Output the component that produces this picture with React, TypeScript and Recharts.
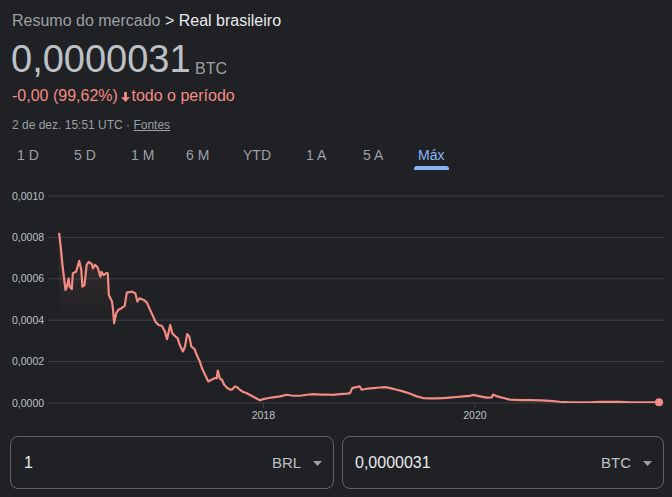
import React from "react";
import {
  ComposedChart,
  Area,
  XAxis,
  YAxis,
  CartesianGrid,
  ReferenceDot,
} from "recharts";

// ---- data ----
const years: number[] = [
  2016.07, 2016.09, 2016.1, 2016.13, 2016.14, 2016.16, 2016.17, 2016.19, 2016.2, 2016.23,
  2016.25, 2016.26, 2016.28, 2016.29, 2016.31, 2016.33, 2016.35, 2016.38, 2016.39, 2016.41,
  2016.43, 2016.44, 2016.46, 2016.47, 2016.49, 2016.52, 2016.53, 2016.54, 2016.57, 2016.58,
  2016.59, 2016.61, 2016.63, 2016.66, 2016.69, 2016.71, 2016.76, 2016.79, 2016.81, 2016.83,
  2016.87, 2016.9, 2016.93, 2016.96, 2016.98, 2017.01, 2017.04, 2017.07, 2017.09, 2017.12,
  2017.14, 2017.17, 2017.19, 2017.21, 2017.24, 2017.26, 2017.28, 2017.3, 2017.32, 2017.35,
  2017.37, 2017.4, 2017.42, 2017.45, 2017.48, 2017.51, 2017.54, 2017.56, 2017.57, 2017.59,
  2017.61, 2017.63, 2017.66, 2017.69, 2017.71, 2017.73, 2017.75, 2017.78, 2017.81, 2017.84,
  2017.87, 2017.91, 2017.94, 2017.97, 2018.0, 2018.05, 2018.09, 2018.16, 2018.22, 2018.28,
  2018.35, 2018.41, 2018.47, 2018.54, 2018.6, 2018.66, 2018.72, 2018.79, 2018.82, 2018.84,
  2018.88, 2018.91, 2018.93, 2018.98, 2019.04, 2019.1, 2019.15, 2019.2, 2019.26, 2019.32,
  2019.39, 2019.45, 2019.51, 2019.58, 2019.64, 2019.7, 2019.76, 2019.83, 2019.89, 2019.95,
  2019.98, 2020.05, 2020.11, 2020.16, 2020.17, 2020.21, 2020.27, 2020.33, 2020.43, 2020.52,
  2020.62, 2020.71, 2020.8, 2020.9, 2020.99, 2021.09, 2021.18, 2021.28, 2021.37, 2021.47,
  2021.56, 2021.65, 2021.74,
];

const values: number[] = [
  0.000822, 0.00073, 0.000675, 0.000546, 0.000555, 0.000602, 0.000562, 0.00055, 0.000627, 0.000634,
  0.000667, 0.000687, 0.000642, 0.000562, 0.00057, 0.000667, 0.000682, 0.000671, 0.00065, 0.000667,
  0.000658, 0.000646, 0.00061, 0.000634, 0.000618, 0.000629, 0.000626, 0.000522, 0.00049, 0.00045,
  0.000386, 0.000434, 0.00045, 0.000458, 0.000469, 0.000533, 0.000538, 0.00053, 0.00049, 0.000506,
  0.000498, 0.000485, 0.00045, 0.000417, 0.000393, 0.000377, 0.000373, 0.000345, 0.000308, 0.000377,
  0.000337, 0.000321, 0.000313, 0.000281, 0.000249, 0.000273, 0.000333, 0.000321, 0.000273, 0.00026,
  0.000233, 0.0002, 0.000169, 0.000136, 0.000104, 0.000112, 0.00012, 0.00012, 0.000157, 0.000117,
  0.000112, 0.000088, 0.000072, 0.000064, 0.000067, 0.00008, 0.000077, 0.000064, 0.000053, 0.000048,
  0.00004, 0.000029, 0.000021, 0.000013, 0.000019, 0.000024, 0.000027, 0.000032, 0.00004, 0.000035,
  0.000035, 0.00004, 0.000043, 0.00004, 0.000041, 0.000039, 0.000043, 0.000045, 0.000048, 0.000072,
  0.000077, 0.00008, 0.000064, 0.000069, 0.000072, 0.000075, 0.000077, 0.000072, 0.000064, 0.000056,
  0.000045, 0.000032, 0.000024, 0.000022, 0.000022, 0.000024, 0.000026, 0.000029, 0.000032, 0.000034,
  0.000039, 0.000032, 0.000026, 0.000027, 0.000041, 0.000032, 0.000024, 0.000016, 0.000014, 0.000014,
  0.000013, 0.00001, 0.000006, 0.000003, 0.000003, 0.000003, 0.000005, 0.000005, 0.000005, 0.000003,
  0.000003, 0.000003, 0.0000031,
];

const yTicks: number[] = [0, 0.0002, 0.0004, 0.0006, 0.0008, 0.001];
const xTicks: number[] = [2018, 2020];
const tabs: string[] = ["1 D", "5 D", "1 M", "6 M", "YTD", "1 A", "5 A", "Máx"];
const tabX: number[] = [17, 74, 131, 186, 243, 306, 363, 418];

const data = years.map((t, i) => ({ t, v: values[i] }));
const lastIdx = years.length - 1;

const FONT = 'Arial, "Liberation Sans", sans-serif';
const RED = "#f28b82";
const BG = "#202124";

const fmtY = (v: number) => v.toFixed(4).replace(".", ",");

const YTick = (props: any) => {
  const { y, payload } = props;
  return (
    <text
      x={12}
      y={y}
      dy="0.35em"
      textAnchor="start"
      fill="#bdc1c6"
      fontSize={10.5}
      fontFamily={FONT}
    >
      {fmtY(payload.value)}
    </text>
  );
};

const abs = (left: number, top: number, extra: React.CSSProperties = {}): React.CSSProperties => ({
  position: "absolute",
  left,
  top,
  whiteSpace: "nowrap",
  fontFamily: FONT,
  ...extra,
});

export default function App() {
  return (
    <div
      style={{
        position: "fixed",
        left: 0,
        top: 0,
        width: 672,
        height: 497,
        background: BG,
        overflow: "hidden",
        fontFamily: FONT,
      }}
    >
      {/* breadcrumb */}
      <div style={abs(12, 13, { fontSize: 16, lineHeight: "16px" })}>
        <span style={{ color: "#9aa0a6" }}>Resumo do mercado </span>
        <span style={{ color: "#e8eaed" }}>&gt; Real brasileiro</span>
      </div>
      {/* big value */}
      <div style={abs(11, 40, { fontSize: 38, lineHeight: "38px", color: "#bdc1c6" })}>
        0,0000031
      </div>
      <div style={abs(195, 60.5, { fontSize: 16, lineHeight: "16px", color: "#9aa0a6" })}>BTC</div>
      {/* change */}
      <div style={abs(12, 88, { fontSize: 16, lineHeight: "16px", color: RED })}>
        -0,00 (99,62%)
      </div>
      <svg style={{ position: "absolute", left: 120.5, top: 92 }} width={9} height={10} viewBox="0 0 9 10">
        <path d="M4.5 10 L0 5.2 L3.1 5.2 L3.1 0 L5.9 0 L5.9 5.2 L9 5.2 Z" fill={RED} />
      </svg>
      <div style={abs(131.5, 88, { fontSize: 16, lineHeight: "16px", color: RED })}>
        todo o período
      </div>
      {/* date line */}
      <div style={abs(12, 119, { fontSize: 12, lineHeight: "12px", color: "#9aa0a6" })}>
        2 de dez. 15:51 UTC ·{" "}
        <span style={{ textDecoration: "underline" }}>Fontes</span>
      </div>
      {/* tabs */}
      {tabs.map((t, i) => (
        <div
          key={t}
          style={abs(tabX[i], 148, {
            fontSize: 14,
            lineHeight: "14px",
            color: i === tabs.length - 1 ? "#8ab4f8" : "#9aa0a6",
          })}
        >
          {t}
        </div>
      ))}
      <div
        style={{
          position: "absolute",
          left: 414,
          top: 166,
          width: 35,
          height: 3.5,
          background: "#8ab4f8",
          borderRadius: "3px 3px 0 0",
        }}
      />
      {/* chart */}
      <div style={{ position: "absolute", left: 0, top: 180 }}>
        <ComposedChart
          width={672}
          height={248}
          data={data}
          margin={{ top: 16, right: 8, bottom: 0, left: 0 }}
        >
          <defs>
            <linearGradient id="fillGrad" x1="0" y1="0" x2="0" y2="1">
              <stop offset="0%" stopColor={RED} stopOpacity={0.22} />
              <stop offset="50%" stopColor={RED} stopOpacity={0} />
              <stop offset="100%" stopColor={RED} stopOpacity={0} />
            </linearGradient>
          </defs>
          <CartesianGrid horizontal vertical={false} stroke="#3c4043" strokeWidth={1} />
          <XAxis
            dataKey="t"
            type="number"
            domain={[2015.965, 2021.787]}
            ticks={xTicks}
            tickFormatter={(v: number) => String(v)}
            axisLine={false}
            tickLine={{ stroke: "#3c4043" }}
            tickSize={5}
            tickMargin={4}
            height={25}
            tick={{ fill: "#bdc1c6", fontSize: 10.5, fontFamily: FONT }}
            allowDataOverflow
          />
          <YAxis
            type="number"
            domain={[0, 0.001]}
            ticks={yTicks}
            axisLine={false}
            tickLine={false}
            width={48}
            tick={<YTick />}
            allowDataOverflow
          />
          <Area
            type="linear"
            dataKey="v"
            stroke={RED}
            strokeWidth={2.2}
            strokeLinejoin="round"
            fill="url(#fillGrad)"
            dot={false}
            activeDot={false}
            isAnimationActive={false}
          />
          <ReferenceDot
            x={years[lastIdx]}
            y={values[lastIdx]}
            r={4}
            fill={RED}
            stroke="none"
          />
        </ComposedChart>
      </div>
      {/* converter boxes */}
      <div
        style={{
          position: "absolute",
          left: 10,
          top: 436,
          width: 322,
          height: 51,
          border: "1px solid #5f6368",
          borderRadius: 8,
        }}
      />
      <div
        style={{
          position: "absolute",
          left: 342,
          top: 436,
          width: 320,
          height: 51,
          border: "1px solid #5f6368",
          borderRadius: 8,
        }}
      />
      <div style={abs(24, 455, { fontSize: 16, lineHeight: "16px", color: "#e8eaed" })}>1</div>
      <div style={abs(272, 455, { fontSize: 15, lineHeight: "16px", color: "#bdc1c6" })}>BRL</div>
      <svg style={{ position: "absolute", left: 313, top: 461 }} width={9} height={5}>
        <path d="M0 0 L9 0 L4.5 5 Z" fill="#9aa0a6" />
      </svg>
      <div style={abs(355, 455, { fontSize: 16, lineHeight: "16px", color: "#e8eaed" })}>
        0,0000031
      </div>
      <div style={abs(601, 455, { fontSize: 15, lineHeight: "16px", color: "#bdc1c6" })}>BTC</div>
      <svg style={{ position: "absolute", left: 643, top: 461 }} width={9} height={5}>
        <path d="M0 0 L9 0 L4.5 5 Z" fill="#9aa0a6" />
      </svg>
    </div>
  );
}
